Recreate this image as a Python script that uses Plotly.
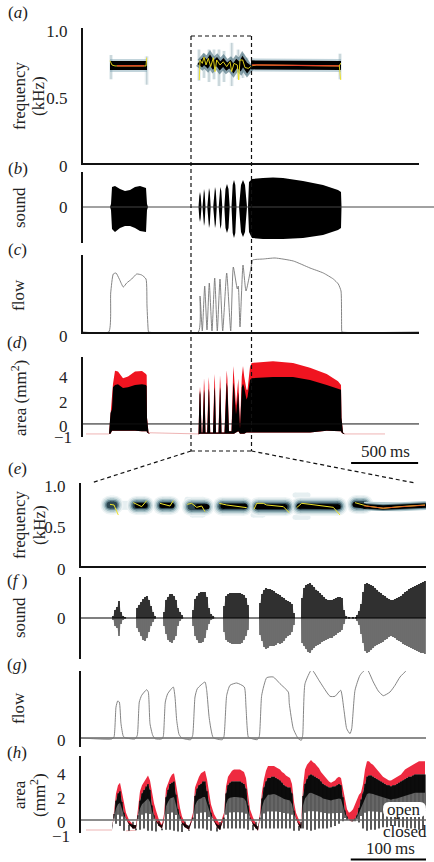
import numpy as np
import plotly.graph_objects as go

W, H = 434, 862
MS_TOP, MS_ZOOM = 7.46, 1.316   # ms per time step in the overview and the zoomed panels
SERIF = "Liberation Serif"

# ---------- (a) overview spectrogram (time step, kHz) ----------
A_BAND_T = [27, 64, None, 168, 258]
A_BAND_F = [.722, .722, None, .727, .722]
A_WAVE_T = [116.3, 118.7, 121, 124.3, 127, 130.3, 133.7, 137, 140.3, 143.7, 147, 150.3, 153.7, 157, 159.7, 162, 164.3, 167]
A_WAVE_F = [.751, .738, .757, .733, .763, .726, .751, .719, .745, .714, .733, .701, .738, .714, .751, .714, .701, .726]
A_STREAK_T = [28, 63.7, 116, 121, 126, 131, 136, 141, 148.7, 155.3, 159.7, 163.7, 257]
A_STREAK_HI = [.80, .79, .84, .81, .84, .84, .84, .83, .89, .84, .81, .78, .81]
A_STREAK_LO = [.62, .58, .61, .63, .60, .62, .57, .60, .57, .62, .63, .65, .62]
A_YEL_T = [27, 29, 32, 62, 63, 63.7, None, 116.3, 117, 119.3, 121, 123, 125.3, 127.7, 130.3, 132, 133.7, 137, 140.3, 143.7, 147, 148.7, 151, 154.3, 155.7, 157, 159.7, 162, 165.3, 168.7, None, 168.7, 173.7, 256.3, 257.7, None, 256.3, 257.7]
A_YEL_F = [.757, .726, .719, .719, .719, .78, None, .615, .763, .738, .785, .726, .775, .714, .78, .677, .763, .726, .75, .714, .75, .677, .738, .726, .615, .763, .763, .707, .701, .72, None, .72, .726, .719, .615, None, .719, .74]
A_RED_T = [34, 61, None, 168, 256]
A_RED_F = [.72, .72, None, .727, .72]

# ---------- (b) overview sound envelope ----------
B_T = [0, 27, 28, 29, 32, 37, 42, 47, 52, 57, 63, 64, 65,
       115.5, 116.3, 117, 117.7, 118.5, 119.5, 120.3, 121, 121.7, 122.5, 124.3, 125.2, 126, 126.8, 127.7,
       130.2, 131.2, 132, 132.8, 133.8, 135.7, 136.5, 137.3, 138.3, 139.3, 141.3, 142.5, 144, 145.5, 146.7,
       148.5, 149.7, 151, 152.3, 153.5, 156, 158, 160, 162, 164,
       165, 166, 169, 180, 190, 200, 220, 240, 255, 258, 258.5, 351]
B_UP = [0, 0, 3, 20, 21, 18, 16, 17, 20, 21, 19, 3, 0,
        0, 11, 15, 11, 0, 0, 14, 18, 14, 0, 0, 15, 19, 15, 0,
        0, 16, 20, 16, 0, 0, 16, 20, 16, 0, 0, 18, 23, 18, 0,
        0, 22, 27, 22, 0, 0, 22, 27, 22, 0,
        0, 25, 28, 29, 29.5, 29, 26, 22, 17, 15, 0, 0]
B_LO = [0, 0, -3, -22, -25, -21, -19, -19, -21, -24, -25, -3, 0,
        0, -11, -15, -11, 0, 0, -15, -19, -15, 0, 0, -17, -21, -17, 0,
        0, -17, -21, -17, 0, 0, -18, -22, -18, 0, 0, -21, -26, -21, 0,
        0, -26, -31, -26, 0, 0, -25, -30, -25, 0,
        0, -25, -31, -32, -32, -32, -31, -28, -23, -21, 0, 0]

# ---------- (c) overview flow ----------
C_T = [0, 25.7, 27.7, 30.3, 33, 36.3, 40.3, 43.7, 48.7, 53.7, 58.7, 63, 64, 65.3, 65.7,
       115.3, 117, 119.3, 121.7, 124, 126.3, 129, 131.7, 134.3, 137, 139.7, 143.7, 147.7, 150.3, 154.3, 155.3, 157, 160, 163,
       168.7, 169.7, 180.3, 192, 210.3, 227, 240.3, 250.3, 255.3, 258, 258.7, 259, 336]
C_FLOW = [0, 0, 39, 58, 59, 53, 45, 49, 53, 58, 57, 53, 26, 1, 0,
          0, 36, 1, 46, 2, 49, 1, 54, 1, 53, 1, 59, 1, 65, 43, 46, 5, 67, 41,
          68, 72, 73, 74, 71, 64, 59, 53, 48, 41, 1, 0, 0]

# ---------- (d) overview area ----------
D_T = [26, 27.5, 29, 30, 32, 35, 40, 45, 52, 59, 63, 63.7, 64, 65.5, 67,
       115.5, 116.5, 117, 117.5, 118.5, 119.5, 120.5, 121, 121.5, 122.5, 124.2, 125.2, 125.7, 126.2, 127.2,
       130, 131, 131.5, 132, 133, 135.5, 136.5, 137, 137.5, 138.5, 141.5, 143, 143.7, 144.4, 146,
       148.5, 149.6, 150.3, 151, 153, 155.3, 157, 158.8, 160, 161.2, 163.5, 164.5, 167, 168.7,
       190, 210, 227, 243.7, 255, 258, 258.5, 260, 262]
D_RED = [-.8, .9, 2.0, 3.3, 4.37, 4.3, 3.75, 3.9, 4.3, 4.35, 4.1, 4.0, .5, -.7, -.85,
         -.85, 2.4, 3.05, 2.4, -.7, -.7, 3.1, 3.75, 3.1, -.7, -.7, 3.2, 3.85, 3.2, -.7,
         -.7, 3.4, 4.1, 3.4, -.7, -.7, 3.3, 4.0, 3.3, -.7, -.7, 3.7, 4.4, 3.7, -.6,
         -.6, 4.0, 4.75, 4.0, 1.5, 3.7, -.2, 3.9, 4.75, 3.9, 2.8, 2.8, 4.7, 5.0,
         5.15, 5.0, 4.6, 4.1, 3.5, 3.2, .5, -.7, -.85]
D_BLACK = [-.8, .9, 1.2, 3.0, 3.2, 3.25, 2.95, 3.0, 3.2, 3.25, 3.2, 3.1, .5, -.7, -.85,
           -.85, 2.4, 2.7, 2.4, -.7, -.7, 2.5, 2.8, 2.5, -.7, -.7, 2.6, 2.9, 2.6, -.7,
           -.7, 2.7, 3.0, 2.7, -.7, -.7, 2.7, 3.0, 2.7, -.7, -.7, 3.0, 3.4, 3.0, -.6,
           -.6, 3.0, 3.4, 3.0, .8, 2.6, -.4, 3.0, 3.3, 3.0, 2.0, 2.2, 3.6, 3.75,
           3.85, 3.85, 3.6, 3.2, 2.85, 2.8, .5, -.7, -.85]
D_LOW = [-.8, -.8, -.55, -.55, -.55, -.5, -.55, -.55, -.55, -.6, -.6, -.6, -.7, -.8, -.85,
         -.85, -.8, -.8, -.8, -.8, -.8, -.8, -.8, -.8, -.8, -.8, -.8, -.8, -.8, -.8,
         -.8, -.8, -.8, -.8, -.8, -.8, -.8, -.8, -.8, -.8, -.8, -.8, -.8, -.8, -.8,
         -.8, -.8, -.8, -.8, -.7, -.6, -.8, -.8, -.8, -.8, -.7, -.7, -.7, -.7,
         -.75, -.72, -.7, -.55, -.55, -.6, -.7, -.8, -.85]
D_BASE_T = [3, 26, None, 65, 116, None, 262, 302]
D_BASE = [-.82, -.82, None, -.72, -.82, None, -.82, -.82]

# ---------- (e) zoomed spectrogram ----------
E_HALO_T = [29, 33, None, 55, 64, None, 81, 90, None, 110, 124, None, 141, 163, None, 177, 205, None, 219, 257, None, 275, 283]
E_HALO_F = [.735, .735, None, .73, .73, None, .73, .73, None, .715, .715, None, .72, .72, None, .715, .715, None, .72, .72, None, .74, .74]
E_THIN_T = [283, 302, 319, 345]
E_THIN_F = [.72, .705, .715, .73]
E_CORE_T = [56, 64, None, 81, 91, None, 116, 126, None, 142, 164, None, 176, 204, None, 218, 257, None, 274, 284]
E_CORE_F = [.73, .73, None, .73, .73, None, .715, .715, None, .72, .72, None, .715, .715, None, .72, .715, None, .74, .72]
E_FAINT_T = [106, 122, None, 111, 122, None, 172, 182, None, 214, 227, None, 214, 227, None, 39, 52, None, 39, 52]
E_FAINT_F = [.803, .803, None, .614, .614, None, .614, .614, None, .855, .855, None, .586, .586, None, .755, .755, None, .707, .707]
E_YEL_T = [29, 33, 37.3, None, 52.3, 60.7, 65.7, None, 79, 89, 92.3, None, 106.3, 110.7, 115.7, 120.7, 124, None, 138.3, 145.7, 165.7, None,
           173, 175.7, 182.3, 185.7, 202.3, 208.3, None, 215.7, 220.7, 229, 252.3, 259, None, 274, 285.7, 302.3, 319, 344]
E_YEL_F = [.743, .735, .614, None, .763, .715, .787, None, .755, .723, .787, None, .743, .755, .707, .723, .655, None, .755, .735, .703, None,
           .683, .755, .755, .735, .715, .643, None, .703, .755, .743, .707, .614, None, .763, .723, .695, .715, .735]
E_RED_T = [283, 302, 319, 344]
E_RED_F = [.725, .697, .713, .733]

# ---------- (f) zoomed sound ----------
F_T = [31, 32, 34, 36, 38, 40, 42, 44, 46,
       55, 56, 58, 60, 62, 64, 66, 68, 70, 72, 74, 75,
       82, 83, 85, 87, 89, 91, 93, 95, 97, 99, 101, 103,
       111, 112, 114, 116, 118, 120, 122, 124, 126, 128, 130, 132, 135,
       142, 143, 145, 147, 149, 151, 153, 155, 157, 159, 161, 163, 165, 167, 168,
       178, 179, 181, 183, 185, 187, 189, 191, 193, 195, 197, 199, 201, 203, 205, 207, 209, 211, 213, 214,
       220, 221, 223, 225, 227, 229, 231, 233, 235, 237, 239, 241, 243, 245, 247, 249, 251, 253, 255, 257, 259, 261, 263, 265, 268, 272, 275,
       276, 278, 280, 282, 284, 286, 288, 290, 292, 294, 296, 298, 300, 302, 304, 306, 308, 310, 312, 314, 316, 318, 320, 322, 324, 326, 328, 330, 332, 334, 336, 338, 340, 342, 344]
F_UP = [0, 2, 8, 11, 17, 6, 2, 1, 0,
        0, 10, 13, 16, 19, 21, 22, 18, 12, 6, 2, 0,
        0, 6, 18, 21, 24, 24, 22, 18, 10, 6, 3, 0,
        0, 8, 19, 22, 25, 26, 26, 26, 21, 10, 4, 2, 0,
        0, 12, 22, 24, 25, 25, 25, 25, 25, 25, 24, 23, 20, 13, 0,
        0, 15, 24, 28, 30, 29, 29, 28, 27, 25, 24, 23, 21, 20, 18, 17, 16, 14, 5, 0,
        0, 20, 30, 33, 34, 35, 33, 31, 28, 27, 25, 23, 21, 19, 18, 18, 18, 19, 20, 21, 21, 20, 8, 2, 1, 1, 1,
        3, 7, 14, 26, 34, 35, 34, 33, 32, 30, 28, 26, 25, 23, 22, 20, 19, 18, 18, 19, 20, 21, 22, 24, 26, 27, 29, 30, 31, 32, 33, 34, 35, 36, 37]
F_LO = [0, -2, -8, -10, -18, -6, -2, -1, 0,
        0, -10, -14, -18, -22, -23, -20, -14, -8, -4, -1, 0,
        0, -8, -16, -22, -24, -25, -22, -18, -8, -3, -1, 0,
        0, -8, -18, -22, -25, -25, -24, -20, -12, -6, -2, -1, 0,
        0, -14, -22, -24, -25, -26, -26, -26, -26, -26, -25, -22, -18, -12, 0,
        0, -17, -23, -29, -31, -30, -28, -28, -28, -27, -25, -26, -25, -23, -20, -18, -17, -14, -7, 0,
        0, -25, -28, -31, -34, -35, -32, -30, -28, -27, -26, -24, -23, -22, -21, -20, -20, -18, -17, -15, -14, -12, -6, -1, -1, -1, -1,
        -3, -7, -16, -25, -33, -35, -34, -32, -30, -28, -27, -26, -25, -24, -22, -21, -19, -18, -19, -20, -22, -23, -24, -26, -27, -28, -29, -30, -31, -32, -33, -34, -35, -35, -36]

# ---------- (g) zoomed flow ----------
G_T = [0, 30.7, 33, 35, 36.7, 38.3, 40, 42.3, 44, 54, 56.3, 58.3, 60.7, 65.7, 67.3, 69, 71.7, 74,
       80.7, 82.3, 84.3, 86.7, 92.3, 94, 95.7, 98, 100.7, 109.7, 111.7, 114, 116.3, 124, 125.7, 128.3, 132.3,
       141.3, 143, 145.7, 149, 155.7, 163.3, 165, 167.3, 169.7, 176.3, 178.3, 180.7, 185.7, 192.3, 199, 207.3, 208.3, 212.3, 217.3, 220.3, 221.7,
       224, 230.7, 239, 249, 254, 259.7, 263, 265.7, 269, 270.7, 274, 279, 285.7, 292.3, 297.3, 302.3, 309, 314, 319, 325.7, 332.3, 339, 344]
G_FLOW = [0, -1, 1, 31, 37, 36, 14.3, 1.7, .3, -1, 2.7, 36, 42.7, 48.3, 46, 14.3, 2.7, -.7,
          -1, 1.7, 36, 44.3, 51, 41, 17.7, 3.7, 0, -1.7, 2.7, 41, 49.3, 56, 47.7, 19.3, .3,
          -1.7, 1.7, 42.7, 52.7, 55, 51, 31, 1, -.3, -1.7, 1.7, 42.7, 60.3, 61, 54.3, 46, 34.3, 9.3, -.7, -2.3, 2.7,
          54.3, 68.3, 56, 41.7, 41.7, 47.7, 27.7, 9.3, 4.3, 9.3, 47.7, 62.7, 69.3, 56, 47, 42.3, 46, 52.7, 61, 67.7, 72.7, 74.3, 75]

# ---------- (h) zoomed area ----------
H_T = [31, 33, 35, 37, 39, 41, 43, 45, 48, 52, 55,
       57, 59, 61, 63, 65, 67, 69, 71, 73, 75, 78, 81,
       83, 85, 87, 89, 91, 93, 95, 97, 99, 101, 104, 108,
       112, 114, 116, 118, 120, 122, 124, 126, 128, 130, 133, 136, 139,
       143, 145, 147, 149, 151, 153, 155, 157, 159, 161, 163, 165, 167, 169, 172, 175, 177,
       179, 181, 183, 185, 187, 189, 191, 193, 195, 197, 199, 201, 203, 205, 207, 209, 211, 213, 215, 218, 220,
       222, 224, 226, 228, 230, 232, 234, 236, 238, 240, 242, 244, 246, 248, 250, 252, 254, 256, 258, 260, 262, 264, 266, 268,
       270, 272, 274, 276, 278, 280, 282, 284, 286, 288, 290, 292, 294, 296, 298, 300, 302, 304, 306, 308, 310, 312, 314, 316, 318, 320, 322, 324, 326, 328, 330, 332, 334, 336, 338, 340, 342, 344]
H_RED = [-.8, 1.0, 2.2, 2.9, 3.1, 2.3, 1.3, .6, 0, -.4, -.5,
         1.0, 2.4, 2.9, 3.2, 3.5, 3.7, 3.3, 2.3, 1.4, .8, 0, -.4,
         .5, 2.6, 3.1, 3.5, 3.8, 3.9, 3.0, 1.8, 1.0, .3, -.2, -.6,
         .6, 2.7, 3.2, 3.6, 3.9, 4.0, 4.1, 3.4, 2.2, 1.3, .5, 0, -.4,
         .6, 2.8, 3.6, 3.9, 4.1, 4.2, 4.2, 4.2, 4.2, 4.1, 4.0, 3.5, 2.0, .9, .2, -.3, -.7,
         .6, 2.4, 3.4, 4.1, 4.5, 4.5, 4.5, 4.5, 4.4, 4.3, 4.2, 4.0, 3.9, 3.7, 3.6, 3.5, 3.0, 1.5, .6, 0, -.4,
         2.8, 4.2, 4.6, 4.8, 5.0, 4.8, 4.7, 4.5, 4.3, 4.0, 3.8, 3.6, 3.4, 3.2, 3.1, 3.2, 3.3, 3.5, 3.6, 3.5, 2.6, 1.5, .9, .6,
         .7, .9, 1.3, 1.8, 2.1, 2.3, 3.0, 4.2, 4.9, 4.9, 4.7, 4.6, 4.4, 4.2, 4.0, 3.8, 3.6, 3.5, 3.4, 3.3, 3.3, 3.4, 3.5, 3.6, 3.7, 3.8, 4.0, 4.2, 4.3, 4.4, 4.5, 4.6, 4.7, 4.8, 4.9, 4.9, 4.9, 4.9]
H_BLACK = [-.8, .5, 1.6, 2.2, 2.4, 1.5, .6, .1, -.4, -.7, -.7,
           .4, 1.6, 2.2, 2.5, 2.8, 3.0, 2.5, 1.2, .4, -.1, -.5, -.7,
           0, 1.9, 2.5, 3.0, 3.1, 3.2, 2.1, .9, .3, -.3, -.6, -.8,
           .2, 2.0, 2.6, 2.9, 3.0, 3.2, 3.2, 2.4, 1.3, .6, -.1, -.6, -.8,
           .2, 2.2, 2.9, 3.1, 3.2, 3.2, 3.2, 3.2, 3.2, 3.1, 3.0, 2.6, 1.2, .2, -.4, -.7, -.9,
           .2, 1.8, 2.7, 3.2, 3.5, 3.5, 3.6, 3.6, 3.5, 3.4, 3.3, 3.1, 2.9, 2.8, 2.7, 2.7, 2.2, .8, .1, -.5, -.7,
           2.0, 3.0, 3.4, 3.7, 3.8, 3.7, 3.6, 3.5, 3.4, 3.2, 3.0, 2.9, 2.8, 2.7, 2.7, 2.8, 2.8, 2.9, 3.0, 2.9, 1.9, .8, .3, 0,
           -.1, -.1, .1, .4, 1.0, 1.7, 2.2, 3.0, 3.6, 3.7, 3.7, 3.6, 3.5, 3.4, 3.3, 3.2, 3.1, 3.0, 2.9, 2.9, 2.8, 2.9, 2.9, 3.0, 3.1, 3.2, 3.3, 3.4, 3.5, 3.6, 3.6, 3.7, 3.8, 3.8, 3.8, 3.8, 3.8, 3.8]
H_LOW = [-.8, -.5, -.3, -.1, -.5, -.7, -.9, -.95, -.9, -.9, -.85,
         -.7, -.8, -.6, -.7, -.8, -.9, -.9, -.9, -.95, -.95, -.9, -.85,
         -.7, -.8, -.6, -.8, -.7, -.9, -.9, -.95, -1, -1, -.9, -.9,
         -.8, -.7, -.8, -.7, -.8, -.7, -.8, -.8, -.9, -.9, -.95, -.95, -.95,
         -.7, -.8, -.7, -.8, -.7, -.8, -.7, -.8, -.7, -.8, -.7, -.8, -.8, -.85, -.85, -.85, -.9,
         -.8, -.7, -.8, -.7, -.8, -.7, -.8, -.7, -.8, -.7, -.8, -.7, -.8, -.7, -.8, -.7, -.8, -.9, -.95, -.9, -.8,
         -.7, -.8, -.8, -.9, -.9, -.8, -.8, -.8, -.7, -.7, -.7, -.7, -.7, -.6, -.6, -.5, -.5, -.4, -.3, -.2, -.1, -.1, 0, 0,
         -.1, -.1, -.1, -.1, -.2, -.4, -.7, -.8, -.9, -.9, -.8, -.8, -.8, -.7, -.7, -.7, -.6, -.6, -.6, -.5, -.5, -.5, -.5, -.6, -.6, -.6, -.6, -.7, -.7, -.7, -.7, -.7, -.7, -.8, -.8, -.8, -.8, -.8]
H_BASE_T = [5, 31, None, 45, 55]
H_BASE = [-.83, -.83, None, -.9, -.85]

LABELS = [("(<i>a</i>)", 18, 13), ("(<i>b</i>)", 18, 168), ("(<i>c</i>)", 17, 249), ("(<i>d</i>)", 17, 342),
          ("(<i>e</i>)", 17, 468), ("(<i>f</i> )", 17, 580), ("(<i>g</i>)", 17, 664), ("(<i>h</i>)", 17, 752)]
YTITLES = [("frequency", 19, 96), ("(kHz)", 38, 96), ("sound", 19, 208), ("flow", 19, 295),
           ("area (mm<sup>2</sup>)", 19, 398), ("frequency", 19, 525), ("(kHz)", 39, 525), ("sound", 19, 618),
           ("flow", 18, 708), ("area", 19, 795), ("(mm<sup>2</sup>)", 38, 795)]


def px(x):
    return x / W


def py(y):
    return 1 - y / H


def top(v):
    return np.array(v, dtype=float) * MS_TOP


def zoom(v):
    return np.array(v, dtype=float) * MS_ZOOM


def num(v):
    return np.array(v, dtype=float)


fig = go.Figure()


def line(x, y, ax, color, width, **kw):
    fig.add_trace(go.Scatter(x=x, y=y, xaxis="x" + ax, yaxis="y" + ax, mode="lines",
                             line=dict(color=color, width=width), hoverinfo="skip",
                             showlegend=False, connectgaps=False, **kw))


def curve(x, y, ax, color, width):
    fig.add_trace(go.Scatter(x=x, y=y, xaxis="x" + ax, yaxis="y" + ax, mode="lines", cliponaxis=False,
                             line=dict(color=color, width=width, shape="spline", smoothing=0.5),
                             hoverinfo="skip", showlegend=False))


def capped(x, y, ax, color, width):
    fig.add_trace(go.Scatter(x=x, y=y, xaxis="x" + ax, yaxis="y" + ax, mode="lines+markers",
                             line=dict(color=color, width=width),
                             marker=dict(color=color, size=width, line=dict(width=0)),
                             hoverinfo="skip", showlegend=False))


def band(x, lo, hi, ax, color):
    line(x, lo, ax, "rgba(0,0,0,0)", 0)
    fig.add_trace(go.Scatter(x=x, y=hi, xaxis="x" + ax, yaxis="y" + ax, mode="lines",
                             line=dict(color="rgba(0,0,0,0)", width=0), fill="tonexty",
                             fillcolor=color, hoverinfo="skip", showlegend=False))


def stems(t, lo, hi):
    xs, ys = [], []
    for a, b, c in zip(t, lo, hi):
        xs += [a, a, None]
        ys += [b, c, None]
    return xs, ys


# (a)
sx, sy = stems(A_STREAK_T, A_STREAK_LO, A_STREAK_HI)
line(top(sx), num(sy), "1", "rgba(120,160,175,0.16)", 4)
line(top(sx), num(sy), "1", "rgba(60,100,115,0.22)", 1.5)
line(top(A_BAND_T), num(A_BAND_F), "1", "rgba(120,160,175,0.45)", 13)
line(top(A_WAVE_T), num(A_WAVE_F), "1", "rgba(60,100,115,0.6)", 11)
line(top(A_BAND_T), num(A_BAND_F), "1", "#000000", 9)
line(top(A_WAVE_T), num(A_WAVE_F), "1", "#000000", 6)
line(top(A_YEL_T), num(A_YEL_F), "1", "#f2e21c", 0.9)
line(top(A_RED_T), num(A_RED_F), "1", "#e8432a", 1.3)

# (b)
band(top(B_T), num(B_LO), num(B_UP), "2", "#000000")
line(top([0, 351]), num([0, 0]), "2", "#444444", 1)

# (c)
curve(top(C_T), num(C_FLOW), "3", "#777777", 0.9)

# (d)
line(top(D_BASE_T), num(D_BASE), "4", "rgba(225,120,120,0.7)", 0.8)
band(top(D_T), num(D_LOW), num(D_RED), "4", "#f01420")
band(top(D_T), num(D_LOW), num(D_BLACK), "4", "#000000")
line(top([0, 336]), num([0, 0]), "4", "#111111", 1)

# (e)
capped(zoom(E_FAINT_T), num(E_FAINT_F), "5", "#e6eff1", 5)
for w, c in [(19, "#eef4f5"), (16, "#d3e1e4"), (13, "#a5c0c6"), (10, "#6a8a94"), (7, "#2c4650")]:
    capped(zoom(E_HALO_T), num(E_HALO_F), "5", c, w)
line(zoom(E_THIN_T), num(E_THIN_F), "5", "#b5ccd1", 9)
line(zoom(E_THIN_T), num(E_THIN_F), "5", "#5f808a", 6.5)
capped(zoom(E_CORE_T), num(E_CORE_F), "5", "#000000", 5)
line(zoom(E_THIN_T), num(E_THIN_F), "5", "#000000", 4.5)
line(zoom(E_YEL_T), num(E_YEL_F), "5", "#eee32a", 1)
line(zoom(E_RED_T), num(E_RED_F), "5", "#e0602a", 1)

# (f)
ZERO_F = np.zeros(len(F_T))
band(zoom(F_T), ZERO_F, num(F_UP), "6", "rgba(0,0,0,0.25)")
band(zoom(F_T), num(F_LO), ZERO_F, "6", "rgba(0,0,0,0.18)")
sx, sy = stems(F_T, ZERO_F, F_UP)
line(zoom(sx), num(sy), "6", "#000000", 1.5)
sx, sy = stems(F_T, F_LO, ZERO_F)
line(zoom(sx), num(sy), "6", "#1a1a1a", 1.1)
line(zoom([0, 345]), num([0, 0]), "6", "#000000", 1.1)

# (g)
line(zoom([0, 345]), num([0, 0]), "7", "#666666", 1.5)
curve(zoom(G_T), num(G_FLOW), "7", "#777777", 0.9)

# (h)
line(zoom(H_BASE_T), num(H_BASE), "8", "rgba(225,120,120,0.7)", 0.8)
band(zoom(H_T), num(H_BLACK), num(H_RED), "8", "#ee2a40")
band(zoom(H_T), num(H_BLACK) * 0.6, num(H_BLACK), "8", "rgba(0,0,0,0.88)")
sx, sy = stems(H_T[::2], H_LOW[::2], H_BLACK[::2])
line(zoom(sx), num(sy), "8", "#000000", 1.3)
sx, sy = stems(H_T[1::2], num(H_BLACK[1::2]) * 0.2, H_BLACK[1::2])
line(zoom(sx), num(sy), "8", "#000000", 1.2)
line(zoom([0, 345]), num([0, 0]), "8", "#666666", 1.5)

# axes
PANELS = {
    "1": dict(box=(83, 419, 28, 163), t=336 * MS_TOP, y=[0, 1], vals=[0, .5, 1], txt=["0", "0.5", "1.0"], base=True, shift=3),
    "2": dict(box=(83, 434, 172, 243), t=351 * MS_TOP, y=[-36, 35], vals=[0], txt=["0"], base=False, shift=0),
    "3": dict(box=(83, 419, 255, 332), t=336 * MS_TOP, y=[0, 77], vals=[0], txt=["0"], base=True, shift=4),
    "4": dict(box=(83, 419, 357, 437), t=336 * MS_TOP, y=[-1.07, 5.49], vals=[0, 2, 4], txt=["0", "2", "4"], base=False, shift=2),
    "5": dict(box=(81, 426, 483, 566), t=345 * MS_ZOOM, y=[0, 1], vals=[0, .5, 1], txt=["0", "0.5", "1.0"], base=True, shift=3),
    "6": dict(box=(81, 426, 577, 659), t=345 * MS_ZOOM, y=[-41, 41], vals=[0], txt=["0"], base=False, shift=0),
    "7": dict(box=(81, 426, 671, 747), t=345 * MS_ZOOM, y=[-9, 67], vals=[0], txt=["0"], base=False, shift=2),
    "8": dict(box=(81, 426, 756, 833), t=345 * MS_ZOOM, y=[-1.08, 5.33], vals=[0, 2, 4], txt=["0", "2", "4"], base=False, shift=2),
}
layout = dict(width=W, height=H, autosize=False, margin=dict(l=0, r=0, t=0, b=0, pad=0, autoexpand=False),
              paper_bgcolor="white", plot_bgcolor="white", showlegend=False,
              font=dict(family=SERIF, size=17, color="#222222"))
for k, p in PANELS.items():
    x0, x1, y0, y1 = p["box"]
    suf = "" if k == "1" else k
    layout["xaxis" + suf] = dict(domain=[px(x0), px(x1)], range=[0, p["t"]], anchor="y" + k,
                                 showline=p["base"], linecolor="#111111", linewidth=2, showticklabels=False,
                                 ticks="", showgrid=False, zeroline=False)
    layout["yaxis" + suf] = dict(domain=[py(y1), py(y0)], range=p["y"], anchor="x" + k,
                                 showline=True, linecolor="#111111", linewidth=2, tickmode="array",
                                 tickvals=p["vals"], ticktext=p["txt"], ticks="outside", ticklen=10,
                                 tickcolor="rgba(0,0,0,0)", showgrid=False, zeroline=False,
                                 ticklabelshift=p["shift"], tickfont=dict(family=SERIF, size=17, color="#222222"))
fig.update_layout(**layout)

ann = []
TEXT = dict(xref="paper", yref="paper", showarrow=False, xanchor="center", yanchor="middle",
            font=dict(family=SERIF, size=17, color="#222222"))
for txt, x, y in LABELS:
    ann.append(dict(text=txt, x=px(x), y=py(y), **TEXT))
for txt, x, y in YTITLES:
    ann.append(dict(text=txt, x=px(x), y=py(y), textangle=-90, **TEXT))
for txt, x, y in [("500\u2009ms", 385, 451), ("open", 404, 809), ("closed", 405, 831), ("100\u2009ms", 390, 848),
                  ("\u22121", 63, 437), ("\u22121", 61, 836)]:
    ann.append(dict(text=txt, x=px(x), y=py(y), **TEXT))

DASH = dict(color="#111111", width=1.2, dash="4px,3px")
bx0, bx1, by0, by1, rx, ry = px(383), px(426), py(817), py(802), px(6), 7 / H
BOX = (f"M {bx0 + rx},{by0} L {bx1 - rx},{by0} Q {bx1},{by0} {bx1},{by0 + ry} L {bx1},{by1 - ry} "
       f"Q {bx1},{by1} {bx1 - rx},{by1} L {bx0 + rx},{by1} Q {bx0},{by1} {bx0},{by1 - ry} "
       f"L {bx0},{by0 + ry} Q {bx0},{by0} {bx0 + rx},{by0} Z")
shapes = [
    dict(type="line", xref="paper", yref="paper", x0=px(191), x1=px(191), y0=py(36), y1=py(451), line=DASH),
    dict(type="line", xref="paper", yref="paper", x0=px(251.5), x1=px(251.5), y0=py(36), y1=py(451), line=DASH),
    dict(type="line", xref="paper", yref="paper", x0=px(191), x1=px(251.5), y0=py(36), y1=py(36), line=DASH),
    dict(type="line", xref="paper", yref="paper", x0=px(191), x1=px(251.5), y0=py(451), y1=py(451), line=DASH),
    dict(type="line", xref="paper", yref="paper", x0=px(191), x1=px(91), y0=py(451), y1=py(483), line=DASH),
    dict(type="line", xref="paper", yref="paper", x0=px(251.5), x1=px(415), y0=py(451), y1=py(483), line=DASH),
    dict(type="line", xref="x4", yref="paper", x0=2000, x1=2500, y0=py(463), y1=py(463),
         line=dict(color="#000000", width=2)),
    dict(type="line", xref="x8", yref="paper", x0=355, x1=455, y0=py(859.5), y1=py(859.5),
         line=dict(color="#000000", width=2)),
    dict(type="path", xref="paper", yref="paper", path=BOX, fillcolor="white",
         line=dict(color="white", width=0), layer="above"),
]
fig.update_layout(annotations=ann, shapes=shapes)
fig.write_html("out.html", config=dict(displayModeBar=False),
               post_script="document.body.style.margin='0';document.body.style.overflow='hidden';")
